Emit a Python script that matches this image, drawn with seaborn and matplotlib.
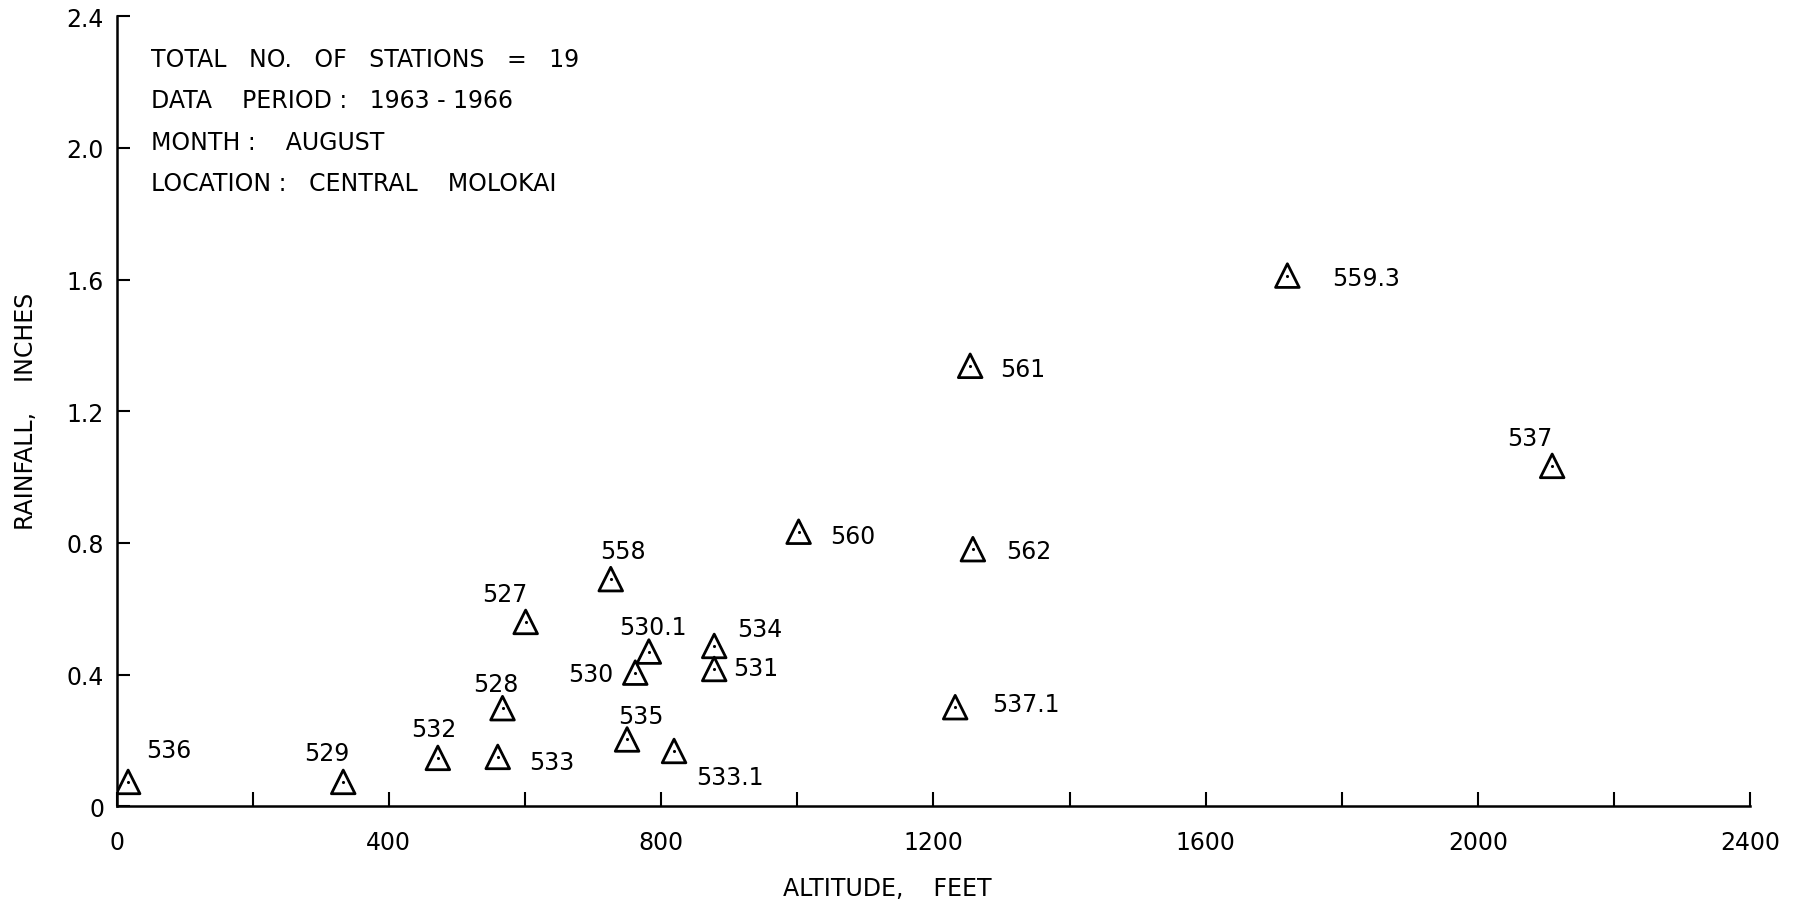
import matplotlib
matplotlib.use("Agg")
import matplotlib.pyplot as plt
import seaborn as sns
import pandas as pd

stations = ["536", "529", "532", "533", "528", "527", "558", "530", "530.1", "535",
            "533.1", "534", "531", "560", "562", "537.1", "561", "559.3", "537"]
altitude_ft = [17, 333, 472, 560, 567, 601, 726, 762, 782, 750,
               819, 878, 878, 1002, 1258, 1232, 1254, 1720, 2109]
rainfall_in = [0.074, 0.074, 0.147, 0.15, 0.298, 0.56, 0.69, 0.406, 0.47, 0.203,
               0.168, 0.487, 0.417, 0.834, 0.781, 0.301, 1.338, 1.612, 1.034]

# label offsets (points) relative to each marker
label_dx = [29, -12, -3, 39, -5, -15, 9, -32, 3, 10, 40, 33, 30, 39, 40, 51, 38, 57, -16]
label_dy = [23, 21, 21, -4, 17.5, 20, 20, -1, 17.5, 17, -19, 12, 1, -3, -1, 2.5, -2, -2, 20]

info_lines = ["TOTAL   NO.   OF   STATIONS   =   19",
              "DATA    PERIOD :   1963 - 1966",
              "MONTH :    AUGUST",
              "LOCATION :   CENTRAL    MOLOKAI"]

df = pd.DataFrame({"altitude": altitude_ft, "rainfall": rainfall_in, "station": stations})

sns.set_theme(style="white")
plt.rcParams["font.family"] = ["DejaVu Sans"]

FS = 17

fig = plt.figure(figsize=(18.07, 9.04), dpi=100)
ax = fig.add_axes([0.0645, 0.107, 0.9041, 0.874])

sns.scatterplot(data=df, x="altitude", y="rainfall", marker="^", s=290,
                color="none", edgecolor="black", linewidth=2.0, ax=ax, zorder=3)
sns.scatterplot(data=df, x="altitude", y="rainfall", marker="o", s=5,
                color="black", edgecolor="black", linewidth=0, ax=ax, zorder=4)

for name, x, y, dx, dy in zip(stations, altitude_ft, rainfall_in, label_dx, label_dy):
    ax.annotate(name, (x, y), xytext=(dx, dy), textcoords="offset points",
                ha="center", va="center", fontsize=FS, color="black")

for i, line in enumerate(info_lines):
    ax.text(0.021, 0.946 - i * 0.0525, line, transform=ax.transAxes,
            ha="left", va="center", fontsize=FS, color="black")

ax.set_xlim(0, 2400)
ax.set_ylim(0, 2.4)
ax.set_xticks([0, 400, 800, 1200, 1600, 2000, 2400])
ax.set_xticklabels(["0", "400", "800", "1200", "1600", "2000", "2400"])
ax.set_xticks([200, 600, 1000, 1400, 1800, 2200], minor=True)
ax.set_yticks([0, 0.4, 0.8, 1.2, 1.6, 2.0, 2.4])
ax.set_yticklabels(["0", "0.4", "0.8", "1.2", "1.6", "2.0", "2.4"])

ax.tick_params(axis="x", which="both", direction="in", length=10, width=1.5,
               pad=17, labelsize=FS, colors="black", bottom=True)
ax.tick_params(axis="y", which="both", direction="in", length=9, width=1.5,
               pad=9, labelsize=FS, colors="black", left=True)

for side in ["top", "right"]:
    ax.spines[side].set_visible(False)
for side in ["left", "bottom"]:
    ax.spines[side].set_color("black")
    ax.spines[side].set_linewidth(1.8)

ax.set_xlabel("ALTITUDE,    FEET", fontsize=FS, color="black", va="center")
ax.set_ylabel("RAINFALL,    INCHES", fontsize=FS, color="black", va="center")
ax.xaxis.set_label_coords(0.472, -0.103)
ax.yaxis.set_label_coords(-0.0557, 0.501)

fig.savefig("out.png", dpi=100, facecolor="white")
